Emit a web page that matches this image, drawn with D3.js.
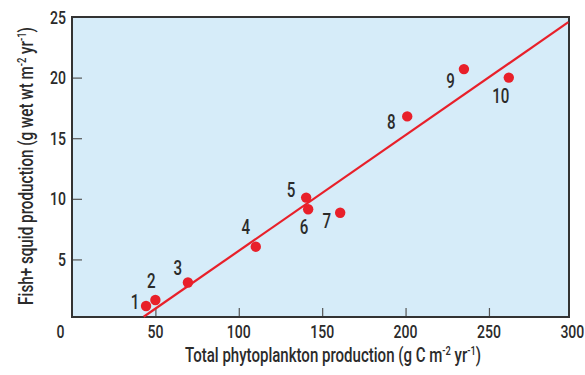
<!DOCTYPE html>
<html>
<head>
<meta charset="utf-8">
<script src="https://cdn.jsdelivr.net/npm/d3@7/dist/d3.min.js"></script>
<style>
  html, body { margin: 0; padding: 0; background: #ffffff; }
  svg { display: block; }
  text { font-family: Roboto, "Liberation Sans", sans-serif; font-weight: 500; fill: #2b2b2b; }
</style>
</head>
<body>
<svg id="chart" width="585" height="375"></svg>
<script>
// ---- data ----
const siteIds   = ["1", "2", "3", "4", "5", "6", "7", "8", "9", "10"];
const phytoProd = [44.4, 50, 69.5, 110.2, 140.4, 141.6, 160.8, 201, 235, 261.9];
const fishProd  = [1.16, 1.65, 3.1, 6.05, 10.1, 9.14, 8.85, 16.8, 20.7, 20.0];
const fitX      = [43, 297.6];
const fitY      = [0.27, 24.57];
const xTicks    = [50, 100, 150, 200, 250, 300];
const yTicks    = [5, 10, 15, 20, 25];

// ---- layout ----
const plot = { left: 72, right: 569, top: 17, bottom: 317 };
// label offsets (pixels) for each point label
const labelDx = [-11, -4, -10, -10, -15, -4, -13.5, -16, -13.5, -8];
const labelDy = [-5, -19.5, -15, -20, -8, 17, 7, 5, 11.5, 17.6];

const svg = d3.select("#chart");

const x = d3.scaleLinear().domain([0, 298]).range([plot.left, plot.right]);
const y = d3.scaleLinear().domain([0.25, 25]).range([plot.bottom, plot.top]);

// condensed text helper: draws text in a group scaled horizontally
function cText(parent, px, py, str, fs, sx, anchor) {
  const g = parent.append("g").attr("transform", `translate(${px},${py}) scale(${sx},1)`);
  g.append("text").attr("x", 0).attr("y", 0).attr("text-anchor", anchor || "middle")
    .attr("font-size", fs).text(str);
  return g;
}

// background
svg.append("rect")
  .attr("x", plot.left).attr("y", plot.top)
  .attr("width", plot.right - plot.left).attr("height", plot.bottom - plot.top)
  .attr("fill", "#d6ecf9");

// inside ticks
const gx = svg.append("g").attr("transform", `translate(0,${plot.bottom})`)
  .call(d3.axisBottom(x).tickValues(xTicks.filter(v => v < 300)).tickSizeInner(-9).tickSizeOuter(0).tickFormat(""));
gx.select(".domain").remove();
gx.selectAll("line").attr("stroke", "#555").attr("stroke-width", 1.2);

const gy = svg.append("g").attr("transform", `translate(${plot.left},0)`)
  .call(d3.axisLeft(y).tickValues(yTicks.filter(v => v < 25)).tickSizeInner(-10).tickSizeOuter(0).tickFormat(""));
gy.select(".domain").remove();
gy.selectAll("line").attr("stroke", "#555").attr("stroke-width", 1.2);

// tick labels
const tl = svg.append("g");
xTicks.forEach(v => cText(tl, x(v), 337.5, String(v), 18, 0.78, "middle"));
cText(tl, 60.5, 337.5, "0", 18, 0.78, "middle");
yTicks.forEach(v => cText(tl, 66, y(v) + 6.5, String(v), 18, 0.78, "end"));

// plot frame
svg.append("rect")
  .attr("x", plot.left).attr("y", plot.top)
  .attr("width", plot.right - plot.left).attr("height", plot.bottom - plot.top)
  .attr("fill", "none").attr("stroke", "#333").attr("stroke-width", 2);

// regression line
svg.append("line")
  .attr("x1", x(fitX[0])).attr("y1", y(fitY[0]))
  .attr("x2", x(fitX[1])).attr("y2", y(fitY[1]))
  .attr("stroke", "#e8202a").attr("stroke-width", 2.2);

// points
svg.append("g").selectAll("circle").data(phytoProd).join("circle")
  .attr("cx", d => x(d)).attr("cy", (d, i) => y(fishProd[i]))
  .attr("r", 5.2).attr("fill", "#e8202a");

// point labels
const pl = svg.append("g");
siteIds.forEach((s, i) => cText(pl, x(phytoProd[i]) + labelDx[i], y(fishProd[i]) + labelDy[i] + 7.8, s, 21, 0.72, "middle"));

// axis titles (scaled to fit measured widths)
function title(px, py, rot, parts, fs, targetW) {
  const g = svg.append("g");
  const t = g.append("text").attr("text-anchor", "middle").attr("font-size", fs);
  parts.forEach(p => {
    const ts = t.append("tspan").text(p.t);
    if (p.sup) ts.attr("font-size", fs * 0.62).attr("baseline-shift", "super");
  });
  const w = t.node().getComputedTextLength();
  const sx = targetW / w;
  g.attr("transform", `translate(${px},${py}) rotate(${rot}) scale(${sx},1)`);
}
title(333, 362, 0, [
  { t: "Total phytoplankton production (g C m" }, { t: "-2", sup: true },
  { t: " yr" }, { t: "-1", sup: true }, { t: ")" }
], 20, 296);
title(32.5, 166, -90, [
  { t: "Fish+ squid production (g wet wt m" }, { t: "-2", sup: true },
  { t: " yr" }, { t: "-1", sup: true }, { t: ")" }
], 20, 278);
</script>
</body>
</html>
